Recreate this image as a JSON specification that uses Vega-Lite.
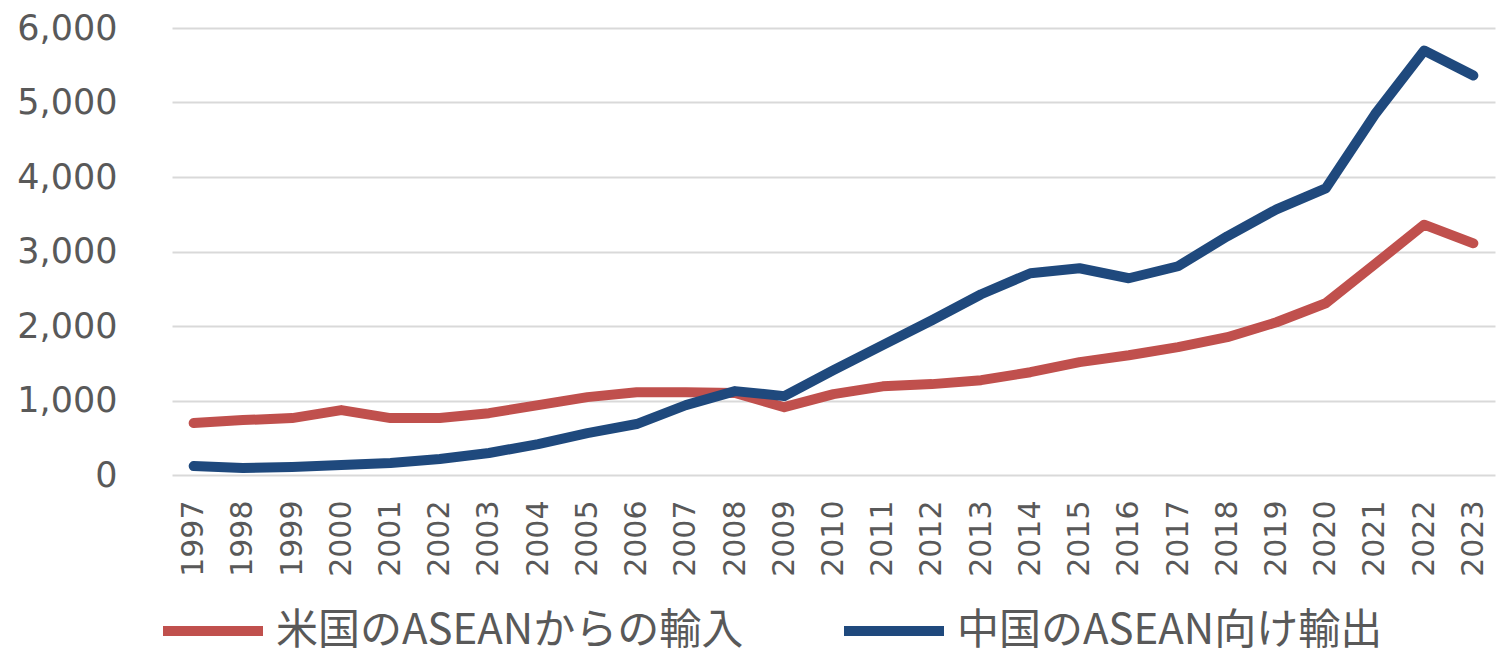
{
 "$schema": "https://vega.github.io/schema/vega-lite/v6.json",
 "width": 1323,
 "height": 447,
 "autosize": "none",
 "padding": {"left": 172, "top": 28, "right": 1, "bottom": 180},
 "background": "white",
 "config": {"view": {"stroke": null}},
 "data": {"values": [
  {"year": "1997", "series": "米国のASEANからの輸入", "value": 697},
  {"year": "1998", "series": "米国のASEANからの輸入", "value": 737},
  {"year": "1999", "series": "米国のASEANからの輸入", "value": 764},
  {"year": "2000", "series": "米国のASEANからの輸入", "value": 871},
  {"year": "2001", "series": "米国のASEANからの輸入", "value": 764},
  {"year": "2002", "series": "米国のASEANからの輸入", "value": 764},
  {"year": "2003", "series": "米国のASEANからの輸入", "value": 830},
  {"year": "2004", "series": "米国のASEANからの輸入", "value": 938},
  {"year": "2005", "series": "米国のASEANからの輸入", "value": 1045},
  {"year": "2006", "series": "米国のASEANからの輸入", "value": 1112},
  {"year": "2007", "series": "米国のASEANからの輸入", "value": 1110},
  {"year": "2008", "series": "米国のASEANからの輸入", "value": 1100},
  {"year": "2009", "series": "米国のASEANからの輸入", "value": 910},
  {"year": "2010", "series": "米国のASEANからの輸入", "value": 1085},
  {"year": "2011", "series": "米国のASEANからの輸入", "value": 1190},
  {"year": "2012", "series": "米国のASEANからの輸入", "value": 1220},
  {"year": "2013", "series": "米国のASEANからの輸入", "value": 1273},
  {"year": "2014", "series": "米国のASEANからの輸入", "value": 1380},
  {"year": "2015", "series": "米国のASEANからの輸入", "value": 1515},
  {"year": "2016", "series": "米国のASEANからの輸入", "value": 1608},
  {"year": "2017", "series": "米国のASEANからの輸入", "value": 1716},
  {"year": "2018", "series": "米国のASEANからの輸入", "value": 1850},
  {"year": "2019", "series": "米国のASEANからの輸入", "value": 2050},
  {"year": "2020", "series": "米国のASEANからの輸入", "value": 2305},
  {"year": "2021", "series": "米国のASEANからの輸入", "value": 2830},
  {"year": "2022", "series": "米国のASEANからの輸入", "value": 3360},
  {"year": "2023", "series": "米国のASEANからの輸入", "value": 3110},
  {"year": "1997", "series": "中国のASEAN向け輸出", "value": 120},
  {"year": "1998", "series": "中国のASEAN向け輸出", "value": 94},
  {"year": "1999", "series": "中国のASEAN向け輸出", "value": 107},
  {"year": "2000", "series": "中国のASEAN向け輸出", "value": 134},
  {"year": "2001", "series": "中国のASEAN向け輸出", "value": 161},
  {"year": "2002", "series": "中国のASEAN向け輸出", "value": 214},
  {"year": "2003", "series": "中国のASEAN向け輸出", "value": 295},
  {"year": "2004", "series": "中国のASEAN向け輸出", "value": 415},
  {"year": "2005", "series": "中国のASEAN向け輸出", "value": 563},
  {"year": "2006", "series": "中国のASEAN向け輸出", "value": 684},
  {"year": "2007", "series": "中国のASEAN向け輸出", "value": 938},
  {"year": "2008", "series": "中国のASEAN向け輸出", "value": 1126},
  {"year": "2009", "series": "中国のASEAN向け輸出", "value": 1059},
  {"year": "2010", "series": "中国のASEAN向け輸出", "value": 1407},
  {"year": "2011", "series": "中国のASEAN向け輸出", "value": 1743},
  {"year": "2012", "series": "中国のASEAN向け輸出", "value": 2078},
  {"year": "2013", "series": "中国のASEAN向け輸出", "value": 2426},
  {"year": "2014", "series": "中国のASEAN向け輸出", "value": 2708},
  {"year": "2015", "series": "中国のASEAN向け輸出", "value": 2775},
  {"year": "2016", "series": "中国のASEAN向け輸出", "value": 2641},
  {"year": "2017", "series": "中国のASEAN向け輸出", "value": 2802},
  {"year": "2018", "series": "中国のASEAN向け輸出", "value": 3204},
  {"year": "2019", "series": "中国のASEAN向け輸出", "value": 3566},
  {"year": "2020", "series": "中国のASEAN向け輸出", "value": 3847},
  {"year": "2021", "series": "中国のASEAN向け輸出", "value": 4840},
  {"year": "2022", "series": "中国のASEAN向け輸出", "value": 5697},
  {"year": "2023", "series": "中国のASEAN向け輸出", "value": 5362}
 ]},
 "mark": {"type": "line", "strokeWidth": 10, "strokeCap": "round", "strokeJoin": "round"},
 "encoding": {
  "x": {
   "field": "year", "type": "ordinal",
   "scale": {"type": "point", "padding": 0.44},
   "axis": {"title": null, "labelAngle": -90, "labelFontSize": 30, "labelFont": "DejaVu Sans", "labelColor": "#595959", "ticks": false, "domain": false, "labelPadding": 25, "grid": false}
  },
  "y": {
   "field": "value", "type": "quantitative",
   "scale": {"domain": [0, 6000]},
   "axis": {"title": null, "values": [0, 1000, 2000, 3000, 4000, 5000, 6000], "format": ",.0f", "labelFontSize": 35, "labelFont": "DejaVu Sans", "labelColor": "#595959", "ticks": false, "domain": false, "labelPadding": 55, "gridColor": "#D9D9D9", "gridWidth": 2}
  },
  "color": {
   "field": "series", "type": "nominal",
   "scale": {"domain": ["米国のASEANからの輸入", "中国のASEAN向け輸出"], "range": ["#C0504D", "#1F497D"]},
   "legend": {"title": null, "orient": "none", "legendX": -14, "legendY": 548, "padding": 0, "direction": "horizontal", "symbolType": "stroke", "symbolSize": 10000, "symbolStrokeWidth": 10, "labelFont": "Noto Sans CJK JP", "labelFontSize": 42, "labelColor": "#595959", "labelOffset": 8, "columnPadding": 80, "labelLimit": 0}
  }
 }
}
